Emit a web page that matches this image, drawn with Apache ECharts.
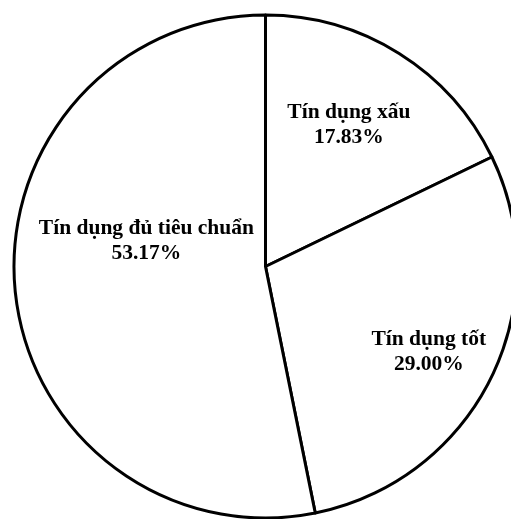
<!DOCTYPE html>
<html>
<head>
<meta charset="utf-8">
<script src="https://cdn.jsdelivr.net/npm/echarts@6/dist/echarts.min.js"></script>
<style>
  html, body { margin: 0; padding: 0; background: #fff; }
  #chart { width: 511px; height: 519px; }
</style>
</head>
<body>
<div id="chart"></div>
<script>
// Credit quality breakdown (share of portfolio, %)
const categories = ['Tín dụng xấu', 'Tín dụng tốt', 'Tín dụng đủ tiêu chuẩn'];
const shares = [17.83, 29.00, 53.17];
// label nudges from the default inside position, in px
const labelOffsets = [[15, -32], [48, 28], [9, -38]];

const chart = echarts.init(document.getElementById('chart'), null, { renderer: 'canvas' });

const data = categories.map((name, i) => ({
  name: name,
  value: shares[i],
  label: { offset: labelOffsets[i] }
}));

chart.setOption({
  animation: false,
  backgroundColor: '#ffffff',
  series: [{
    type: 'pie',
    center: [265.5, 266.5],
    radius: [0, 251.5],
    startAngle: 90,
    clockwise: true,
    avoidLabelOverlap: false,
    emphasis: { disabled: true },
    itemStyle: {
      color: '#ffffff',
      borderColor: '#000000',
      borderWidth: 3
    },
    label: {
      show: true,
      position: 'inside',
      color: '#000000',
      fontFamily: '"Liberation Serif", "Times New Roman", serif',
      fontWeight: 'bold',
      fontSize: 21.5,
      lineHeight: 25,
      align: 'center',
      formatter: p => p.name + '\n' + p.value.toFixed(2) + '%'
    },
    labelLine: { show: false },
    data: data
  }]
});
</script>
</body>
</html>
